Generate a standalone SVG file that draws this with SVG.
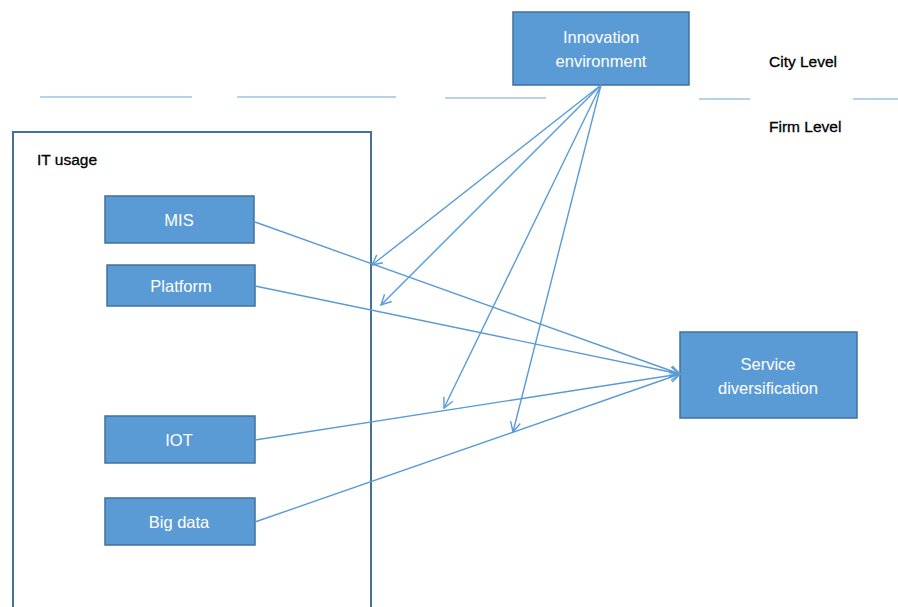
<svg xmlns="http://www.w3.org/2000/svg" width="898" height="607" viewBox="0 0 898 607">
<style>
.box{fill:#5B9BD5;stroke:#41719C;stroke-width:1.5}
.lbl{font-family:"Liberation Sans",Arial,sans-serif;font-size:16.5px;fill:#ffffff;text-anchor:middle}
.txt{font-family:"Liberation Sans",Arial,sans-serif;font-size:15.5px;fill:#000000;stroke:#000000;stroke-width:0.3}
.conn{stroke:#5B9BD5;stroke-width:1.4;fill:none}
.sep{stroke:#9DC3E6;stroke-width:1.3}
</style>
<defs>
<marker id="arr" viewBox="0 0 12 12" refX="11" refY="6" markerWidth="12" markerHeight="12" markerUnits="userSpaceOnUse" orient="auto">
<polyline points="1,1 11,6 1,11" fill="none" stroke="#5B9BD5" stroke-width="1.4"/>
</marker>
</defs>
<rect width="898" height="607" fill="#ffffff"/>
<g id="separator">
<line class="sep" x1="40" y1="97" x2="192" y2="97"/>
<line class="sep" x1="237" y1="97" x2="396" y2="97"/>
<line class="sep" x1="445" y1="98" x2="546" y2="98"/>
<line class="sep" x1="699" y1="99" x2="750" y2="99"/>
<line class="sep" x1="853" y1="99" x2="898" y2="99"/>
</g>
<g id="levels">
<text class="txt" x="769" y="67">City Level</text>
<text class="txt" x="769" y="132">Firm Level</text>
</g>
<g id="it-usage">
<rect x="13" y="132" width="358" height="480" fill="none" stroke="#41719C" stroke-width="2"/>
<text class="txt" x="37" y="165">IT usage</text>
</g>
<g id="innovation">
<rect class="box" x="513" y="12" width="176" height="73"/>
<text class="lbl" x="601" y="43">Innovation</text>
<text class="lbl" x="601" y="67">environment</text>
</g>
<g id="mis">
<rect class="box" x="105" y="196" width="149" height="47"/>
<text class="lbl" x="179" y="226">MIS</text>
</g>
<g id="platform">
<rect class="box" x="107" y="265" width="148" height="41"/>
<text class="lbl" x="181" y="292">Platform</text>
</g>
<g id="iot">
<rect class="box" x="105" y="416" width="150" height="47"/>
<text class="lbl" x="179" y="446">IOT</text>
</g>
<g id="bigdata">
<rect class="box" x="105" y="498" width="150" height="47"/>
<text class="lbl" x="179" y="528">Big data</text>
</g>
<g id="service">
<rect class="box" x="680" y="332" width="177" height="86"/>
<text class="lbl" x="768" y="370">Service</text>
<text class="lbl" x="768" y="394">diversification</text>
</g>
<g id="connectors">
<line class="conn" x1="601" y1="85" x2="372" y2="265" marker-end="url(#arr)"/>
<line class="conn" x1="601" y1="85" x2="381" y2="305" marker-end="url(#arr)"/>
<line class="conn" x1="601" y1="85" x2="444" y2="408" marker-end="url(#arr)"/>
<line class="conn" x1="601" y1="85" x2="513" y2="432" marker-end="url(#arr)"/>
<line class="conn" x1="255" y1="222" x2="680" y2="374" marker-end="url(#arr)"/>
<line class="conn" x1="255" y1="286" x2="680" y2="374" marker-end="url(#arr)"/>
<line class="conn" x1="255" y1="440" x2="680" y2="374" marker-end="url(#arr)"/>
<line class="conn" x1="255" y1="522" x2="680" y2="374" marker-end="url(#arr)"/>
</g>
</svg>
